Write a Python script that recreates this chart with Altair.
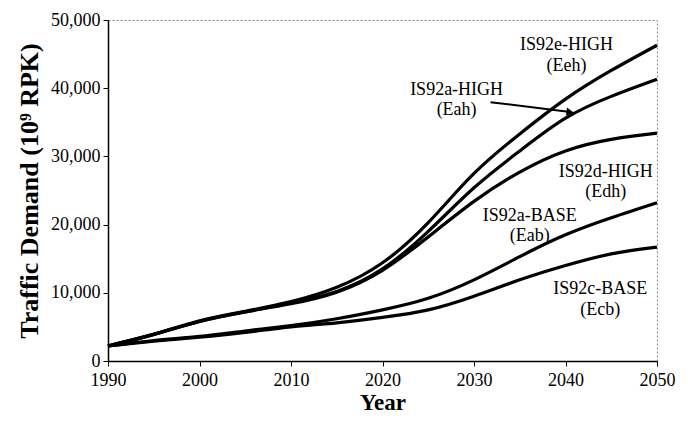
import altair as alt
import pandas as pd

years = [1990, 1995, 2000, 2005, 2010, 2015, 2020, 2025, 2030, 2035, 2040, 2045, 2050]
eeh = [2200, 3900, 5900, 7300, 8700, 10800, 14400, 20300, 27500, 33300, 38400, 42600, 46300]
eah = [2200, 3900, 5800, 7200, 8500, 10200, 13500, 19000, 25400, 30800, 35600, 38800, 41300]
edh = [2200, 3900, 5800, 7200, 8400, 10100, 13300, 18200, 23400, 27700, 30800, 32500, 33400]
eab = [2200, 3000, 3600, 4400, 5200, 6200, 7500, 9200, 11900, 15300, 18500, 21000, 23200]
ecb = [2200, 2900, 3500, 4200, 5000, 5600, 6400, 7500, 9500, 11900, 14000, 15700, 16700]

series_names = ["Eeh", "Eah", "Edh", "Eab", "Ecb"]
series_vals = [eeh, eah, edh, eab, ecb]

label_text = ["IS92e-HIGH", "(Eeh)", "IS92a-HIGH", "(Eah)", "IS92d-HIGH", "(Edh)",
              "IS92a-BASE", "(Eab)", "IS92c-BASE", "(Ecb)"]
label_x = [2040.1, 2040.1, 2028.1, 2028.1, 2044.4, 2044.4, 2036.1, 2036.1, 2043.8, 2043.8]
label_y = [46300, 43300, 39700, 36800, 27700, 24800, 21300, 18400, 10600, 7500]

arrow_x = [2031.8, 2040.5]
arrow_y = [37950, 36500]

rows = []
for name, vals in zip(series_names, series_vals):
    for yr, v in zip(years, vals):
        rows.append({"year": yr, "value": v, "series": name})
df = pd.DataFrame(rows)

labels_df = pd.DataFrame({"x": label_x, "y": label_y, "text": label_text})
arrow_df = pd.DataFrame({"x": arrow_x, "y": arrow_y})
head_df = arrow_df.iloc[[1]]

FONT = "Liberation Serif"

xscale = alt.Scale(domain=[1990, 2050], nice=False, zero=False)
yscale = alt.Scale(domain=[0, 50000], nice=False)

x_axis = alt.Axis(title="Year", values=list(range(1990, 2051, 10)), format="d",
                  grid=False, tickSize=5, labelFontSize=18, titleFontSize=23,
                  titleFontWeight="bold", labelPadding=5, titlePadding=2,
                  labelFlush=False, labelOverlap=False,
                  labelFont=FONT, titleFont=FONT, labelColor="black", titleColor="black",
                  domainColor="black", tickColor="black", domainWidth=1.5)
y_axis = alt.Axis(title="Traffic Demand (10⁹ RPK)", values=list(range(0, 50001, 5000)),
                  labelExpr="datum.value % 10000 == 0 ? format(datum.value, ',') : ''",
                  grid=False, tickSize=5, labelFontSize=18, titleFontSize=26,
                  titleFontWeight="bold", labelPadding=3, titlePadding=8,
                  labelFlush=False, labelOverlap=False,
                  labelFont=FONT, titleFont=FONT, labelColor="black", titleColor="black",
                  domainColor="black", tickColor="black", domainWidth=1.5)

lines = alt.Chart(df).mark_line(color="black", strokeWidth=3.2, interpolate="natural").encode(
    x=alt.X("year:Q", scale=xscale, axis=x_axis),
    y=alt.Y("value:Q", scale=yscale, axis=y_axis),
    detail="series:N",
)

texts = alt.Chart(labels_df).mark_text(font=FONT, fontSize=18, color="black").encode(
    x=alt.X("x:Q", scale=xscale),
    y=alt.Y("y:Q", scale=yscale),
    text="text:N",
)

arrow = alt.Chart(arrow_df).mark_line(color="black", strokeWidth=2).encode(
    x=alt.X("x:Q", scale=xscale),
    y=alt.Y("y:Q", scale=yscale),
)

head = alt.Chart(head_df).mark_point(shape="triangle-right", filled=True, color="black",
                                     size=70, angle=7, opacity=1).encode(
    x=alt.X("x:Q", scale=xscale),
    y=alt.Y("y:Q", scale=yscale),
)

chart = alt.layer(lines, arrow, head, texts).properties(
    width=549, height=341,
    background="white",
    autosize=alt.AutoSizeParams(type="none"),
    padding={"left": 108, "top": 20, "right": 31, "bottom": 61},
).configure_view(
    stroke="#888888", strokeDash=[2, 2], strokeWidth=1
)

chart.save("out.html", embed_options={"renderer": "svg", "actions": False})
